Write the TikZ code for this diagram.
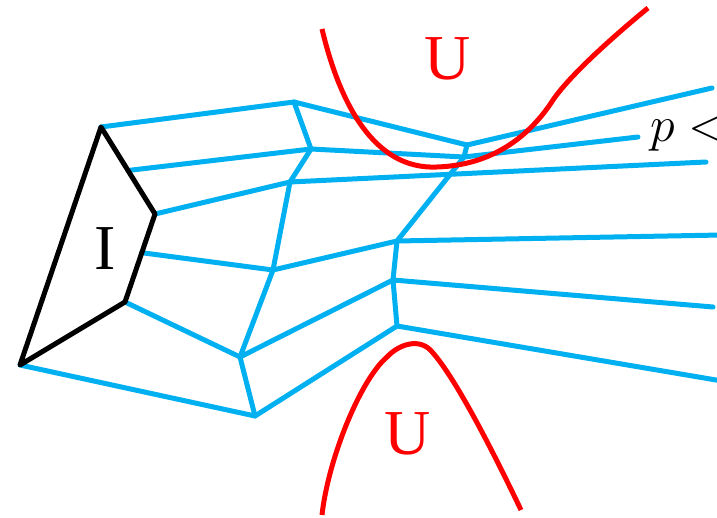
\RequirePackage{fix-cm}
\documentclass[tikz,border=0pt]{standalone}
\usepackage{fontspec}
\setmainfont{Liberation Serif}
\usetikzlibrary{calc}
\definecolor{vblue}{RGB}{0,176,240}
\begin{document}
\begin{tikzpicture}[x=1pt,y=-1pt,
  edge/.style={draw=vblue,line width=5pt,line cap=round,line join=round},
  wall/.style={draw=black,line width=5pt,line join=round,line cap=round},
  curve/.style={draw=red,line width=5pt,line cap=butt},
  lab/.style={inner sep=0pt,font=\fontsize{64}{64}\selectfont}]
\useasboundingbox (0,0) rectangle (717,518);
% black cell vertices
\coordinate (A) at (101,127);
\coordinate (B) at (155,214);
\coordinate (C) at (125,302);
\coordinate (D) at (20,365);
\coordinate (AB) at ($(A)!0.5!(B)$);
\coordinate (BC) at ($(B)!0.44!(C)$);
% inner vertices
\coordinate (P1) at (294,102);
\coordinate (P2) at (311,149);
\coordinate (P3) at (290,182);
\coordinate (P4) at (273,270);
\coordinate (P5) at (240,357);
\coordinate (P6) at (255,416);
\coordinate (Q1) at (467,145);
\coordinate (Q2) at (464,157);
\coordinate (R1) at (397,241);
\coordinate (R2) at (393,280);
\coordinate (R3) at (397,326);
% free ends
\coordinate (E1) at (712,88);
\coordinate (E2) at (638,137);
\coordinate (E3) at (706,162);
\coordinate (E4) at (722,235);
\coordinate (E5) at (713,307);
\coordinate (E6) at (722,381);
% blue edges
\draw[edge] (A) -- (P1) -- (Q1) -- (E1);
\draw[edge] (AB) -- (P2) -- (Q2) -- (E2);
\draw[edge] (B) -- (P3) -- (E3);
\draw[edge] (BC) -- (P4) -- (R1) -- (E4);
\draw[edge] (C) -- (P5) -- (R2) -- (E5);
\draw[edge] (D) -- (P6) -- (R3) -- (E6);
\draw[edge] (P1) -- (P2) -- (P3) -- (P4) -- (P5) -- (P6);
\draw[edge] (Q1) -- (Q2) -- (R1) -- (R2) -- (R3);
% black cell
\draw[wall] (A) -- (B) -- (C) -- (D) -- cycle;
% red curves
\draw[curve] (322,29) .. controls (340,105) and (375,170) .. (437,167)
  .. controls (500,165) and (535,128) .. (553,100)
  .. controls (570,75) and (615,35) .. (648,8);
\draw[curve] (322,515) .. controls (328,460) and (360,380) .. (387,357)
  .. controls (398,345) and (420,336) .. (433,353)
  .. controls (455,378) and (490,445) .. (521,510);
% labels
\node[lab,text=red] (U1) at (448,58.5) {U};
\node[lab,text=red] (U2) at (408,433.5) {U};
\node[lab] (I) at (105,249) {I};
\node[inner sep=0pt,anchor=base west,font=\fontsize{50}{50}\selectfont] (pl) at (650,142) {$p<$};
\end{tikzpicture}
\end{document}
